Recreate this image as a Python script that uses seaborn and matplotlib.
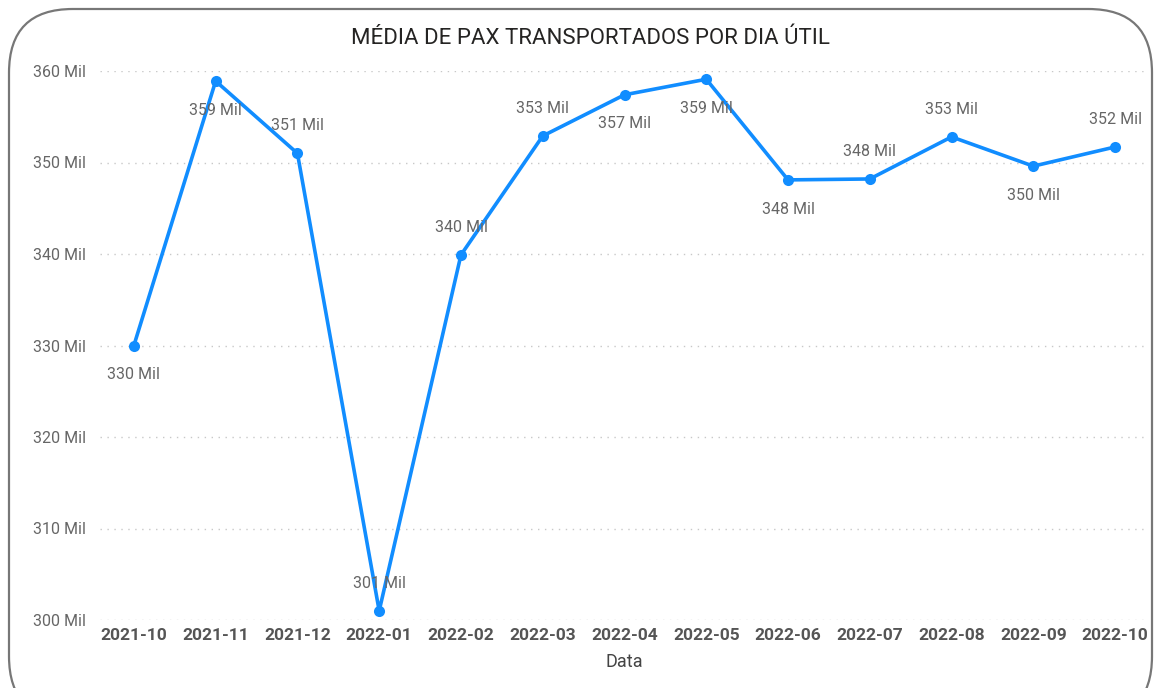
import matplotlib
matplotlib.use("Agg")
import matplotlib.pyplot as plt
from matplotlib.patches import FancyBboxPatch
import seaborn as sns
import pandas as pd

# Monthly average of passengers carried per working day (thousands)
months = ["2021-10", "2021-11", "2021-12", "2022-01", "2022-02", "2022-03", "2022-04",
          "2022-05", "2022-06", "2022-07", "2022-08", "2022-09", "2022-10"]
pax_mil = [330.0, 358.9, 351.0, 301.0, 339.9, 352.9, 357.4,
           359.1, 348.1, 348.2, 352.8, 349.6, 351.7]
y_ticks = [300, 310, 320, 330, 340, 350, 360]

# Where each data label sits relative to its point
label_side = ["below", "below", "above", "above", "above", "above", "below",
              "below", "below", "above", "above", "below", "above"]

df = pd.DataFrame({"Data": months, "Pax": pax_mil})

sns.set_theme(style="white")
plt.rcParams["font.family"] = ["Roboto", "DejaVu Sans"]

W, H = 1159, 688
fig = plt.figure(figsize=(W / 100, H / 100), dpi=100)
ax = fig.add_axes([93 / W, 1 - 620 / H, (1156 - 93) / W, (620 - 71) / H])

line_color = "#118DFF"
sns.lineplot(data=df, x="Data", y="Pax", ax=ax, color=line_color, linewidth=2.6,
             marker="o", markersize=8, markeredgewidth=0, sort=False, clip_on=False)

ax.set_xlim(-0.5, len(months) - 0.5)
ax.set_ylim(300, 360)
ax.set_yticks(y_ticks)
ax.set_yticklabels([f"{v} Mil" for v in y_ticks], color="#666666", fontsize=11.5)
ax.tick_params(axis="y", length=0, pad=5)
ax.tick_params(axis="x", length=0, pad=6)
for lbl in ax.get_xticklabels():
    lbl.set_fontweight("bold")
    lbl.set_color("#555555")
    lbl.set_fontsize(12.5)

for v in y_ticks:
    ax.axhline(v, xmin=7 / 1063, xmax=1 - 11 / 1063, color="#c8c8c8",
               linestyle=(0, (1, 4)), linewidth=1, zorder=0)

for spine in ax.spines.values():
    spine.set_visible(False)

ax.set_xlabel("Data", fontsize=13, color="#444444", labelpad=7)
ax.set_ylabel("")

for i, (v, side) in enumerate(zip(pax_mil, label_side)):
    dy = -21 if side == "below" else 20
    ax.annotate(f"{round(v)} Mil", (i, v), xytext=(0, dy), textcoords="offset points",
                ha="center", va="center", fontsize=11.5, color="#666666", zorder=5)

fig.text(590 / W, 1 - 38 / H, "MÉDIA DE PAX TRANSPORTADOS POR DIA ÚTIL",
         ha="center", va="center", fontsize=16, color="#252423")

border = FancyBboxPatch((9 / W, 1 - 720 / H), (1152 - 9) / W, (720 - 9) / H,
                        boxstyle="round,pad=0,rounding_size=0.055",
                        transform=fig.transFigure, facecolor="none",
                        edgecolor="#777777", linewidth=1.6,
                        mutation_aspect=W / H)
fig.patches.append(border)

fig.savefig("out.png", dpi=100, facecolor="white")
